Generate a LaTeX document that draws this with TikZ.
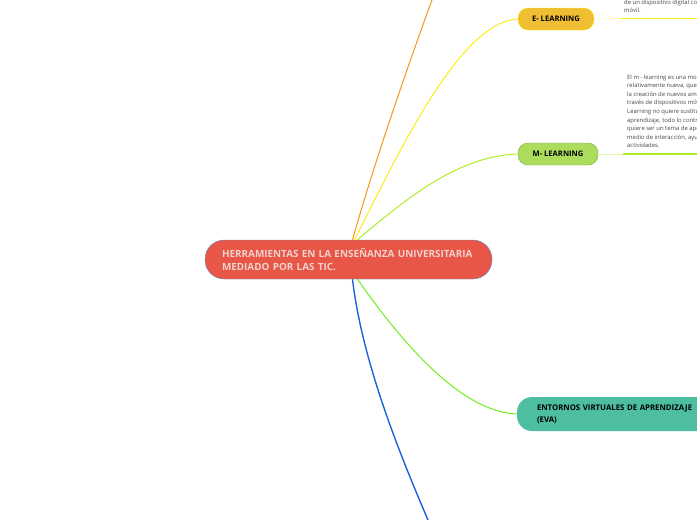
\documentclass[tikz,border=0pt]{standalone}
\usepackage{fontspec}
\setmainfont{Open Sans}
\definecolor{rootred}{RGB}{232,86,72}
\definecolor{rootline}{RGB}{95,150,205}
\definecolor{roottext}{RGB}{242,210,204}
\definecolor{eyellow}{RGB}{240,190,50}
\definecolor{eline}{RGB}{250,238,20}
\definecolor{mgreen}{RGB}{172,220,92}
\definecolor{mline}{RGB}{176,236,40}
\definecolor{evagreen}{RGB}{77,190,160}
\definecolor{evaline}{RGB}{110,238,30}
\definecolor{orangeline}{RGB}{247,148,29}
\definecolor{blueline}{RGB}{25,100,220}
\definecolor{notegray}{RGB}{70,70,70}
\usetikzlibrary{calc}
\tikzset{
  topicbox/.style={rounded corners=10pt, minimum height=22pt, inner sep=0pt, text=black},
  notetext/.style={font=\fontsize{5.9}{8.6}\selectfont, text=notegray, align=left, anchor=north west, inner sep=0pt},
  branch/.style={line width=1pt}
}
\begin{document}
\begin{tikzpicture}[x=1pt, y=-1pt, every node/.style={font=\bfseries\fontsize{7.6}{8}\selectfont}]
  \useasboundingbox (0,0) rectangle (697,520);
  % central topic
  \node[fill=rootred, draw=rootline, thin, rounded corners=19pt, minimum width=287pt, minimum height=39pt,
        text width=253pt, align=left, inner sep=0pt, text=roottext, font=\bfseries\fontsize{9.9}{13.5}\selectfont]
        (root) at (348.5,259.5) {HERRAMIENTAS EN LA ENSEÑANZA UNIVERSITARIA\\MEDIADO POR LAS TIC.};
  % subtopics
  \node[topicbox, fill=eyellow, draw=eline, minimum width=76pt] (elearn) at (556,19) {E- LEARNING};
  \node[topicbox, fill=mgreen, draw=mgreen!75!black, thin, minimum width=80pt] (mlearn) at (558,154) {M- LEARNING};
  \node[topicbox, fill=evagreen, rounded corners=15pt, minimum width=210pt, minimum height=34pt,
        text width=170pt, align=left, font=\bfseries\fontsize{7.8}{12}\selectfont] (eva) at (622,414)
        {ENTORNOS VIRTUALES DE APRENDIZAJE\\(EVA)};
  % notes
  \node[notetext] (enote) at (624,-0.5) {de un dispositivo digital con\\móvil.};
  \node[notetext] (mnote) at (627,74.5) {El m - learning es una modalidad\\relativamente nueva, que\\la creación de nuevos ambientes\\través de dispositivos móviles\\Learning no quiere sustituir\\aprendizaje, todo lo contrario\\quiere ser un tema de apoyo\\medio de interacción, ayuda\\actividades.};
  \coordinate (eunder) at (620,18.5);
  \coordinate (eunderend) at (697,18.5);
  \coordinate (munder) at (623,154);
  \coordinate (munderend) at (697,154);
  \coordinate (orangeend) at (432,0);
  \coordinate (blueend) at (428,520);
  % branches
  \draw[branch, orangeline] ([xshift=4pt]root.north) .. controls (375,160) and (410,60) .. (orangeend);
  \draw[branch, eline] ([xshift=6pt]root.north) .. controls (400,150) and (460,22) .. (elearn.west);
  \draw[branch, mline] ([xshift=9pt]root.north) .. controls (410,195) and (460,156) .. (mlearn.west);
  \draw[branch, evaline] ([xshift=9pt]root.south) .. controls (400,340) and (460,412) .. (eva.west);
  \draw[line width=1.4pt, blueline] ([xshift=4pt]root.south) .. controls (362,360) and (398,450) .. (blueend);
  % note lines
  \draw[thin, eline!35] (elearn.east) -- (eunder);
  \draw[line width=1.5pt, eline] (eunder) -- (eunderend);
  \draw[thin, mline!40] (mlearn.east) -- (munder);
  \draw[line width=1.5pt, mline] (munder) -- (munderend);
\end{tikzpicture}
\end{document}
